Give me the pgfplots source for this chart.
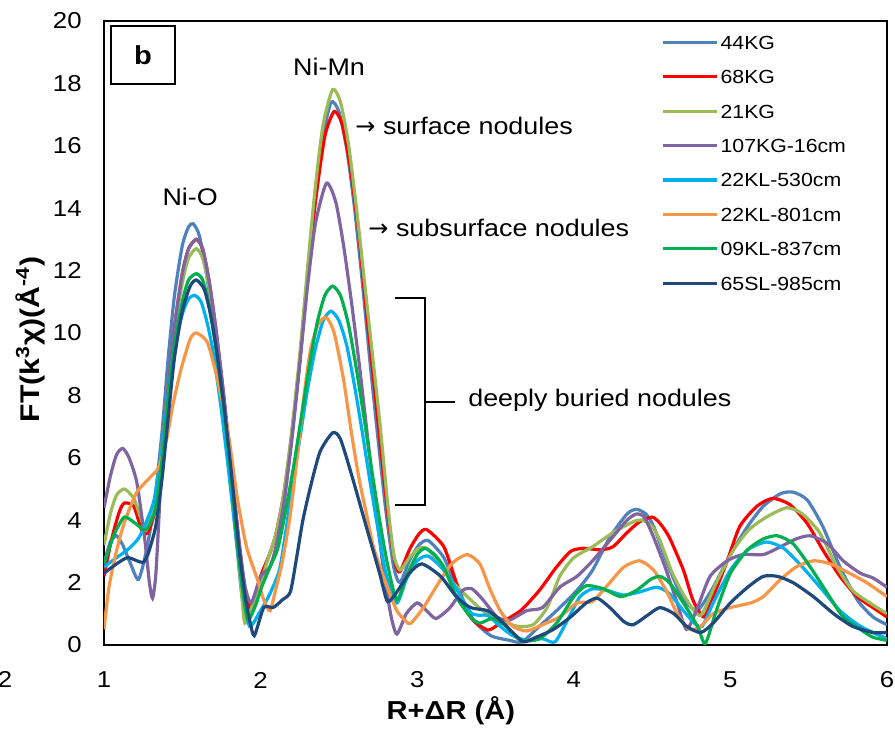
\documentclass[border=0pt]{standalone}
\usepackage{fontspec}
\setmainfont{Liberation Sans}[FakeStretch=1.12]
\newfontfamily\dejavu{DejaVu Sans}
\usepackage{pgfplots}
\pgfplotsset{compat=1.18}
\definecolor{cA}{RGB}{79,129,189}
\definecolor{cB}{RGB}{255,0,0}
\definecolor{cC}{RGB}{155,187,89}
\definecolor{cD}{RGB}{128,100,162}
\definecolor{cE}{RGB}{0,176,240}
\definecolor{cF}{RGB}{247,150,70}
\definecolor{cG}{RGB}{0,176,80}
\definecolor{cH}{RGB}{31,73,125}
\begin{document}
\begin{tikzpicture}
\useasboundingbox (-52pt,-42pt) rectangle (395.5pt,322.5pt);
\begin{axis}[
  at={(0pt,0pt)}, anchor=south west,
  scale only axis, width=391.5pt, height=312pt,
  xmin=1, xmax=6, ymin=0, ymax=20,
  xtick={1,2,3,4,5,6}, ytick={0,2,...,20},
  major tick length=0pt,
  axis line style={line width=1pt},
  /pgf/number format/assume math mode=true,
  tick label style={font=\fontsize{11.5}{13}\selectfont},
  xticklabel style={anchor=center, inner sep=0pt},
  yticklabel style={anchor=east, inner sep=0pt},
  xticklabel shift=17.5pt,
  yticklabel shift=11pt,
  clip mode=individual,
  xlabel={\textbf{R+ΔR (Å)}},
  ylabel={\textbf{FT(k\textsuperscript{3}χ)(Å\textsuperscript{-4})}},
  every axis x label/.style={at={(axis description cs:0.443,-0.106)}, anchor=center, font=\fontsize{13}{15}\selectfont},
  every axis y label/.style={at={(axis description cs:-0.094,0.49)}, anchor=center, rotate=90, font=\fontsize{13.5}{15}\selectfont},
  every axis plot/.append style={line width=1.6pt, smooth, tension=0.4},
  legend image code/.code={\draw[#1] (0pt,0pt) -- (27pt,0pt);},
  legend cell align=left,
  legend style={at={(axis cs:4.56,19.59)}, anchor=north west, draw=none, fill=none,
    font=\fontsize{9.5}{11}\selectfont, inner sep=0pt, row sep=8.9pt, column sep=0pt,
    nodes={inner sep=0.75pt, text height=6.8pt, text depth=0pt}},
]
\addplot[cA] coordinates {(1.00,2.6) (1.04,3.3) (1.08,3.5) (1.12,3.2) (1.17,2.6) (1.22,2.1) (1.27,3.0) (1.32,4.5) (1.37,6.8) (1.41,9.2) (1.45,11.2) (1.50,12.8) (1.54,13.4) (1.57,13.5) (1.61,13.1) (1.66,11.7) (1.70,10.2) (1.75,8.0) (1.80,5.5) (1.85,3.1) (1.88,1.6) (1.91,0.75) (1.97,1.45) (2.04,2.3) (2.10,3.05) (2.15,4.6) (2.20,6.7) (2.25,9.1) (2.30,11.8) (2.35,14.3) (2.40,16.3) (2.45,17.4) (2.50,17.1) (2.55,15.9) (2.60,14.0) (2.65,11.6) (2.70,9.0) (2.75,6.6) (2.80,4.3) (2.85,2.5) (2.89,2.0) (2.95,2.7) (3.01,3.2) (3.07,3.35) (3.17,2.8) (3.25,1.85) (3.36,0.8) (3.47,0.3) (3.59,0.15) (3.67,0.1) (3.78,0.6) (3.89,1.1) (4.02,1.75) (4.12,2.4) (4.23,3.45) (4.34,4.2) (4.40,4.35) (4.46,4.2) (4.51,3.8) (4.59,2.7) (4.68,1.65) (4.75,1.2) (4.80,1.15) (4.89,1.85) (5.00,2.9) (5.11,3.8) (5.21,4.45) (5.32,4.85) (5.40,4.9) (5.49,4.65) (5.59,3.8) (5.70,2.5) (5.81,1.45) (5.91,0.9) (6.00,0.65)};
\addlegendentry{44KG}
\addplot[cB] coordinates {(1.00,2.2) (1.04,3.2) (1.07,3.8) (1.10,4.3) (1.13,4.55) (1.19,4.45) (1.24,3.7) (1.28,3.6) (1.33,4.4) (1.37,6.2) (1.41,8.3) (1.45,10.2) (1.50,11.9) (1.54,12.7) (1.59,13.0) (1.63,12.7) (1.67,11.7) (1.71,10.3) (1.76,8.2) (1.81,5.8) (1.86,3.4) (1.90,1.8) (1.93,1.2) (1.97,1.6) (2.00,2.2) (2.06,2.95) (2.10,3.6) (2.15,4.9) (2.20,6.8) (2.25,9.1) (2.30,11.8) (2.35,14.2) (2.41,16.3) (2.47,17.1) (2.52,16.7) (2.57,15.4) (2.62,13.5) (2.67,11.0) (2.72,8.6) (2.77,6.2) (2.82,3.9) (2.86,2.6) (2.89,2.35) (2.95,3.05) (3.01,3.55) (3.06,3.7) (3.17,3.15) (3.25,2.0) (3.34,0.9) (3.45,0.48) (3.53,0.7) (3.66,1.1) (3.78,1.75) (3.89,2.5) (3.98,3.0) (4.06,3.1) (4.17,3.05) (4.25,3.15) (4.34,3.6) (4.42,3.95) (4.50,4.1) (4.55,3.9) (4.61,3.45) (4.70,2.4) (4.76,1.45) (4.83,0.9) (4.89,1.55) (4.98,2.7) (5.06,3.8) (5.17,4.45) (5.27,4.7) (5.38,4.5) (5.49,3.9) (5.59,3.05) (5.70,2.2) (5.81,1.55) (5.91,1.2) (6.00,0.9)};
\addlegendentry{68KG}
\addplot[cC] coordinates {(1.00,3.2) (1.04,4.2) (1.08,4.8) (1.13,5.0) (1.19,4.7) (1.24,4.0) (1.27,3.7) (1.32,4.6) (1.37,6.3) (1.41,8.3) (1.45,10.1) (1.50,11.6) (1.54,12.4) (1.59,12.7) (1.63,12.4) (1.67,11.5) (1.71,10.1) (1.76,8.0) (1.81,5.6) (1.85,3.3) (1.88,1.6) (1.90,0.7) (1.95,1.3) (2.00,2.0) (2.05,2.8) (2.10,3.6) (2.15,4.9) (2.20,6.9) (2.25,9.3) (2.30,12.1) (2.35,14.7) (2.40,16.7) (2.46,17.8) (2.51,17.4) (2.56,16.1) (2.61,14.1) (2.66,11.8) (2.71,9.5) (2.76,7.2) (2.81,4.6) (2.85,2.9) (2.89,2.4) (2.95,2.8) (3.01,3.1) (3.06,3.1) (3.13,2.7) (3.21,2.1) (3.32,1.55) (3.42,1.1) (3.53,0.8) (3.64,0.6) (3.74,0.65) (3.83,1.2) (3.91,2.2) (4.00,2.8) (4.12,3.15) (4.25,3.6) (4.38,3.95) (4.44,4.0) (4.50,3.8) (4.55,3.35) (4.63,2.3) (4.72,1.45) (4.81,0.95) (4.91,2.0) (5.02,3.05) (5.12,3.7) (5.23,4.1) (5.36,4.4) (5.46,4.2) (5.57,3.6) (5.68,2.5) (5.78,1.75) (5.89,1.35) (6.00,1.0)};
\addlegendentry{21KG}
\addplot[cD] coordinates {(1.00,4.4) (1.04,5.4) (1.08,6.1) (1.12,6.3) (1.16,6.0) (1.21,5.2) (1.26,3.4) (1.29,2.0) (1.31,1.5) (1.33,2.2) (1.35,4.0) (1.37,6.1) (1.41,8.3) (1.45,10.2) (1.50,11.9) (1.54,12.7) (1.59,13.0) (1.63,12.7) (1.67,11.7) (1.71,10.3) (1.76,8.2) (1.81,5.8) (1.86,3.4) (1.90,1.9) (1.94,1.35) (2.00,2.2) (2.06,2.5) (2.10,3.2) (2.15,4.6) (2.20,6.6) (2.25,9.0) (2.30,11.5) (2.35,13.5) (2.42,14.8) (2.48,14.2) (2.53,12.8) (2.58,11.0) (2.63,9.0) (2.68,6.8) (2.73,4.6) (2.78,2.6) (2.83,1.0) (2.87,0.35) (2.93,1.0) (3.00,1.35) (3.06,1.1) (3.12,0.85) (3.21,1.2) (3.29,1.75) (3.35,1.8) (3.42,1.45) (3.51,0.9) (3.59,0.8) (3.70,1.1) (3.80,1.2) (3.91,1.85) (4.02,2.2) (4.12,2.7) (4.23,3.35) (4.34,4.0) (4.40,4.2) (4.45,4.1) (4.51,3.45) (4.59,2.4) (4.66,1.35) (4.72,0.5) (4.79,1.2) (4.87,2.2) (4.98,2.7) (5.08,2.9) (5.21,2.9) (5.32,3.15) (5.42,3.4) (5.51,3.5) (5.62,3.25) (5.72,2.7) (5.83,2.3) (5.91,2.15) (6.00,1.85)};
\addlegendentry{107KG-16cm}
\addplot[cE] coordinates {(1.00,2.5) (1.08,2.8) (1.15,3.05) (1.21,3.35) (1.25,3.7) (1.32,4.65) (1.37,6.25) (1.41,8.0) (1.45,9.6) (1.50,10.6) (1.54,11.1) (1.58,11.2) (1.62,11.0) (1.66,10.3) (1.70,9.3) (1.75,7.5) (1.80,5.4) (1.85,3.2) (1.89,1.6) (1.93,0.6) (2.00,1.1) (2.06,1.65) (2.12,2.4) (2.16,3.6) (2.20,5.0) (2.25,6.6) (2.30,8.2) (2.35,9.5) (2.40,10.4) (2.45,10.7) (2.50,10.4) (2.55,9.6) (2.60,8.3) (2.65,6.8) (2.70,5.2) (2.75,3.7) (2.80,2.3) (2.87,1.35) (2.93,2.1) (3.00,2.7) (3.07,2.85) (3.17,2.4) (3.25,1.8) (3.34,1.05) (3.40,0.95) (3.45,0.95) (3.53,0.6) (3.61,0.3) (3.70,0.15) (3.80,0.2) (3.88,0.1) (3.96,0.8) (4.04,1.55) (4.12,1.8) (4.21,1.75) (4.32,1.6) (4.42,1.7) (4.53,1.85) (4.61,1.65) (4.70,1.1) (4.77,0.7) (4.82,0.6) (4.89,1.35) (5.00,2.4) (5.11,3.05) (5.23,3.3) (5.34,3.1) (5.46,2.5) (5.59,1.75) (5.70,1.1) (5.83,0.6) (6.00,0.2)};
\addlegendentry{22KL-530cm}
\addplot[cF] coordinates {(1.00,0.5) (1.03,1.8) (1.07,2.8) (1.11,3.6) (1.15,4.2) (1.21,4.9) (1.29,5.35) (1.35,5.7) (1.40,6.6) (1.44,7.7) (1.49,8.8) (1.55,9.8) (1.59,10.0) (1.66,9.7) (1.72,8.6) (1.79,6.9) (1.85,4.75) (1.91,3.15) (1.98,2.1) (2.02,1.45) (2.06,1.1) (2.10,1.85) (2.14,2.7) (2.19,4.2) (2.24,6.3) (2.28,8.1) (2.32,9.5) (2.37,10.3) (2.42,10.5) (2.47,10.0) (2.53,8.5) (2.58,6.8) (2.63,5.3) (2.68,4.1) (2.72,3.15) (2.77,2.4) (2.81,1.85) (2.87,1.1) (2.93,0.75) (2.96,0.7) (3.04,1.2) (3.15,2.1) (3.23,2.65) (3.32,2.9) (3.40,2.6) (3.46,1.85) (3.53,1.1) (3.61,0.6) (3.70,0.45) (3.80,0.65) (3.91,0.9) (4.02,1.35) (4.12,1.4) (4.23,2.0) (4.32,2.5) (4.42,2.7) (4.51,2.4) (4.60,1.65) (4.66,1.0) (4.74,0.5) (4.81,0.6) (4.89,1.0) (5.00,1.2) (5.13,1.35) (5.21,1.55) (5.32,2.1) (5.42,2.5) (5.53,2.7) (5.64,2.6) (5.76,2.3) (5.87,2.0) (6.00,1.55)};
\addlegendentry{22KL-801cm}
\addplot[cG] coordinates {(1.00,2.6) (1.04,3.2) (1.07,3.6) (1.13,4.1) (1.20,3.9) (1.25,3.7) (1.28,3.75) (1.33,4.4) (1.37,5.9) (1.41,7.9) (1.45,9.6) (1.50,11.0) (1.54,11.7) (1.59,11.9) (1.63,11.7) (1.67,10.9) (1.71,9.7) (1.76,7.8) (1.81,5.5) (1.85,3.3) (1.89,1.6) (1.92,0.8) (1.97,1.3) (2.01,1.9) (2.06,2.5) (2.11,3.1) (2.16,4.3) (2.21,5.7) (2.26,7.3) (2.31,8.9) (2.36,10.3) (2.41,11.2) (2.46,11.5) (2.51,11.2) (2.56,10.3) (2.61,8.9) (2.66,7.3) (2.71,5.6) (2.76,4.0) (2.81,2.6) (2.87,1.45) (2.94,2.3) (3.00,2.9) (3.05,3.1) (3.11,2.9) (3.17,2.5) (3.25,1.55) (3.34,0.9) (3.40,0.7) (3.48,0.85) (3.57,0.6) (3.66,0.15) (3.78,0.2) (3.89,0.7) (4.00,1.55) (4.08,1.9) (4.19,1.8) (4.30,1.55) (4.40,1.75) (4.49,2.1) (4.55,2.2) (4.61,2.0) (4.70,1.35) (4.79,0.6) (4.84,0.05) (4.91,1.1) (5.00,2.3) (5.11,3.05) (5.21,3.4) (5.30,3.5) (5.40,3.25) (5.51,2.5) (5.62,1.65) (5.72,0.9) (5.83,0.5) (5.91,0.25) (6.00,0.15)};
\addlegendentry{09KL-837cm}
\addplot[cH] coordinates {(1.00,2.3) (1.08,2.6) (1.15,2.8) (1.21,2.7) (1.25,2.65) (1.28,2.9) (1.33,3.8) (1.37,5.3) (1.41,7.3) (1.45,9.2) (1.50,10.7) (1.55,11.5) (1.59,11.7) (1.64,11.4) (1.68,10.6) (1.72,9.4) (1.77,7.5) (1.82,5.2) (1.86,3.2) (1.90,1.6) (1.93,0.8) (1.96,0.3) (2.02,1.2) (2.08,1.2) (2.14,1.45) (2.19,1.7) (2.23,2.8) (2.27,4.0) (2.32,5.1) (2.38,6.2) (2.46,6.8) (2.51,6.6) (2.59,5.3) (2.68,3.7) (2.76,2.3) (2.81,1.4) (2.87,1.7) (2.95,2.3) (3.03,2.6) (3.15,2.2) (3.25,1.55) (3.34,1.2) (3.45,1.1) (3.53,0.8) (3.61,0.4) (3.68,0.1) (3.76,0.25) (3.87,0.5) (3.98,0.9) (4.08,1.35) (4.15,1.5) (4.23,1.2) (4.32,0.75) (4.38,0.65) (4.47,0.95) (4.55,1.2) (4.64,1.0) (4.72,0.6) (4.81,0.4) (4.89,0.7) (5.00,1.35) (5.11,1.85) (5.21,2.2) (5.30,2.2) (5.40,2.0) (5.53,1.55) (5.66,1.0) (5.78,0.6) (5.91,0.4) (6.00,0.4)};
\addlegendentry{65SL-985cm}
% annotations
\node[draw, line width=1pt, minimum width=32pt, minimum height=29pt, inner sep=0pt, font=\bfseries\fontsize{13}{15}\selectfont] at (axis cs:1.249,18.91) {b};
\node[anchor=base, inner sep=0pt, font=\fontsize{12}{14}\selectfont] at (axis cs:1.55,14.1) {Ni-O};
\node[anchor=base, inner sep=0pt, font=\fontsize{12}{14}\selectfont] at (axis cs:2.437,18.24) {Ni-Mn};
\node[anchor=base west, inner sep=0pt, font=\fontsize{12}{14}\selectfont] at (axis cs:2.603,16.35) {{\dejavu →} surface nodules};
\node[anchor=base west, inner sep=0pt, font=\fontsize{12}{14}\selectfont] at (axis cs:2.686,13.08) {{\dejavu →} subsurface nodules};
\node[anchor=base west, inner sep=0pt, font=\fontsize{12}{14}\selectfont] at (axis cs:3.324,7.63) {deeply buried nodules};
\draw[line width=0.9pt] (axis cs:2.858,11.12) -- (axis cs:3.05,11.12) -- (axis cs:3.05,4.49) -- (axis cs:2.858,4.49);
\draw[line width=0.9pt] (axis cs:3.05,7.79) -- (axis cs:3.241,7.79);
\node[anchor=center, inner sep=0pt, font=\fontsize{11.5}{13}\selectfont] at (axis cs:0.368,-1.12) {2};
\end{axis}
\end{tikzpicture}
\end{document}
